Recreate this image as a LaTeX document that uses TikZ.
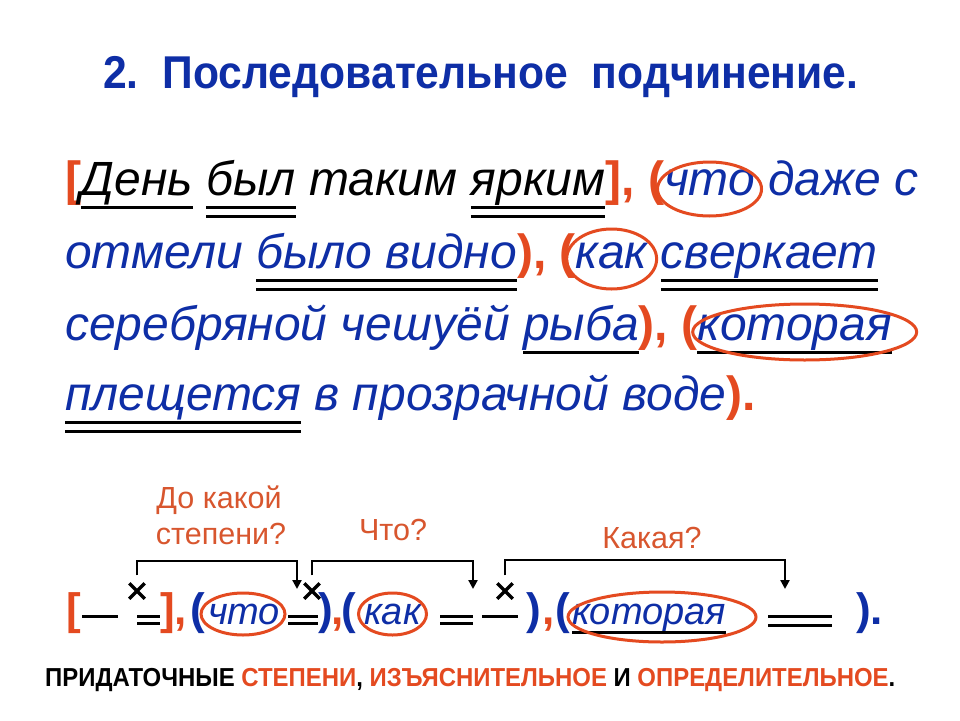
\documentclass[tikz,border=0pt]{standalone}
\usepackage{fontspec}
\usepackage{graphicx}
\setmainfont{Liberation Sans}
\usetikzlibrary{arrows.meta,shapes.misc}
\definecolor{tblue}{RGB}{14,46,166}
\definecolor{torange}{RGB}{228,74,32}
\definecolor{lorange}{RGB}{216,86,46}
\newcommand\mainsz{\fontsize{48}{58}\selectfont}
\newcommand\formsz{\fontsize{38}{46}\selectfont}
\newcommand\wgap{13.3pt}
\newcommand\uone[1]{\draw[ul] ([yshift=-12.5pt]#1.base west) -- ([yshift=-12.5pt]#1.base east);}
\newcommand\utwo[1]{\draw[ul] ([yshift=-12.5pt]#1.base west) -- ([yshift=-12.5pt]#1.base east)
  ([yshift=-21pt]#1.base west) -- ([yshift=-21pt]#1.base east);}
\begin{document}
\begin{tikzpicture}[x=1pt,y=-1pt,
 w/.style={anchor=base west,inner sep=0pt,outer sep=0pt,font=\mainsz\itshape,text=tblue},
 wk/.style={w,text=black},
 pu/.style={anchor=base west,inner sep=0pt,outer sep=0pt,font=\mainsz\bfseries,text=torange},
 fw/.style={anchor=base west,inner sep=0pt,outer sep=0pt,font=\formsz\itshape,text=tblue},
 fp/.style={anchor=base west,inner sep=0pt,outer sep=0pt,font=\fontsize{44}{50}\selectfont\bfseries,text=tblue},
 fpo/.style={fp,text=torange},
 ul/.style={line width=3pt},
 oval/.style={draw=torange,line width=3pt},
 lab/.style={anchor=base,inner sep=0pt,font=\fontsize{30.5}{36}\selectfont,text=lorange},
 xm/.style={draw,cross out,minimum size=15.5pt,inner sep=0pt,outer sep=0pt,line width=3.5pt},
 conn/.style={line width=2.2pt,-{Triangle[length=9pt,width=9pt]}},
]
\useasboundingbox[fill=white] (0,0) rectangle (960,720);

% title
\node[anchor=base west,inner sep=0pt,text=tblue,font=\fontsize{46}{54}\selectfont\bfseries] (title) at (103,88)
  {\resizebox{755pt}{\height}{2.~~Последовательное~~подчинение.}};

% line 1
\node[pu] (lb) at (65,195) {[};
\node[wk] (den) at (lb.base east) {День};
\node[wk] (byl) at ([xshift=\wgap]den.base east) {был};
\node[wk] (tak) at ([xshift=\wgap]byl.base east) {таким};
\node[wk] (yar) at ([xshift=\wgap]tak.base east) {ярким};
\node[pu] (rb) at (yar.base east) {],};
\node[pu] (lp1) at ([xshift=\wgap]rb.base east) {(};
\node[w] (chto) at (lp1.base east) {что};
\node[w] (dazhe) at ([xshift=\wgap]chto.base east) {даже};
\node[w] (s) at ([xshift=\wgap]dazhe.base east) {с};

% line 2
\node[w] (otm) at (65,268) {отмели};
\node[w] (bylo) at ([xshift=\wgap]otm.base east) {было видно};
\node[pu] (rp1) at (bylo.base east) {),};
\node[pu] (lp2) at ([xshift=\wgap]rp1.base east) {(};
\node[w] (kak) at (lp2.base east) {как};
\node[w] (sverk) at ([xshift=\wgap]kak.base east) {сверкает};

% line 3
\node[w] (ser) at (65,340) {серебряной чешуёй};
\node[w] (ryba) at ([xshift=\wgap]ser.base east) {рыба};
\node[pu] (rp2) at (ryba.base east) {),};
\node[pu] (lp3) at ([xshift=\wgap]rp2.base east) {(};
\node[w] (kot) at (lp3.base east) {которая};

% line 4
\node[w] (plesh) at (65,410) {плещется};
\node[w] (rest) at ([xshift=\wgap]plesh.base east) {в прозрачной воде};
\node[pu] (rp3) at (rest.base east) {).};

% underlines
\uone{den}
\utwo{byl}
\utwo{yar}
\utwo{bylo}
\utwo{sverk}
\uone{ryba}
\uone{kot}
\utwo{plesh}

% ovals
\draw[oval] ([xshift=0pt,yshift=6pt]chto.base) ellipse [x radius=52pt,y radius=27pt];
\draw[oval] ([yshift=9pt]kak.base) ellipse [x radius=45pt,y radius=30pt];
\draw[oval] ([xshift=10pt,yshift=8pt]kot.base) ellipse [x radius=112pt,y radius=28pt];

% question labels
\node[lab] (q1a) at (219,508) {До какой};
\node[lab] (q1b) at (221,544) {степени?};
\node[lab] (q2) at (393,540) {Что?};
\node[lab] (q3) at (652,548) {Какая?};

% formula row
\node[fpo] (fb) at (66,624) {[};
\draw[ul] (82,616) -- (118,616);
\draw[ul] (137,616) -- (160,616) (137,623) -- (160,623);
\node[fpo] (frb) at (160,624) {],};
\node[fp] (flp1) at (190,624) {(};
\node[fw] (fchto) at (208,624) {что};
\draw[ul] (288,616) -- (318,616) (288,623) -- (318,623);
\node[fp] (frp1) at (318,624) {)};
\node[fpo] (fc1) at (331,624) {,};
\node[fp] (flp2) at (341,624) {(};
\node[fw] (fkak) at (364,624) {как};
\draw[ul] (440,616) -- (473,616) (440,623) -- (473,623);
\draw[ul] (482,616) -- (518,616);
\node[fp] (frp2) at (526,624) {)};
\node[fpo] (fc2) at (542,624) {,};
\node[fp] (flp3) at (555,624) {(};
\node[fw] (fkot) at (572,624) {которая};
\draw[ul] ([yshift=-8pt]fkot.base west) -- ([yshift=-8pt]fkot.base east);
\draw[ul] (768,616) -- (832,616) (768,625) -- (832,625);
\node[fp] (fend) at (856,624) {).};

\draw[oval] ([xshift=-1pt,yshift=10pt]fchto.base) ellipse [x radius=42pt,y radius=21pt];
\draw[oval] ([yshift=10pt]fkak.base) ellipse [x radius=34pt,y radius=21pt];
\draw[oval] ([xshift=13pt,yshift=7pt]fkot.base) ellipse [x radius=94pt,y radius=25pt];

% crosses and connectors
\node[xm] (x1) at (137,591) {};
\node[xm] (x2) at (312,591) {};
\node[xm] (x3) at (505,591) {};
\coordinate (a1) at (297,589);
\coordinate (a2) at (473,589);
\coordinate (a3) at (785,589);
\draw[conn] ([yshift=8pt]x1.north) |- ([yshift=28pt]a1) -- (a1);
\draw[conn] ([yshift=8pt]x2.north) |- ([yshift=28pt]a2) -- (a2);
\draw[conn] ([yshift=8pt]x3.north) |- ([yshift=29pt]a3) -- (a3);

% caption
\node[anchor=base west,inner sep=0pt,font=\fontsize{26}{30}\selectfont\bfseries] (cap) at (45,686)
  {\resizebox{850pt}{\height}{ПРИДАТОЧНЫЕ \textcolor{torange}{СТЕПЕНИ}, \textcolor{torange}{ИЗЪЯСНИТЕЛЬНОЕ} И \textcolor{torange}{ОПРЕДЕЛИТЕЛЬНОЕ}.}};
\end{tikzpicture}
\end{document}
